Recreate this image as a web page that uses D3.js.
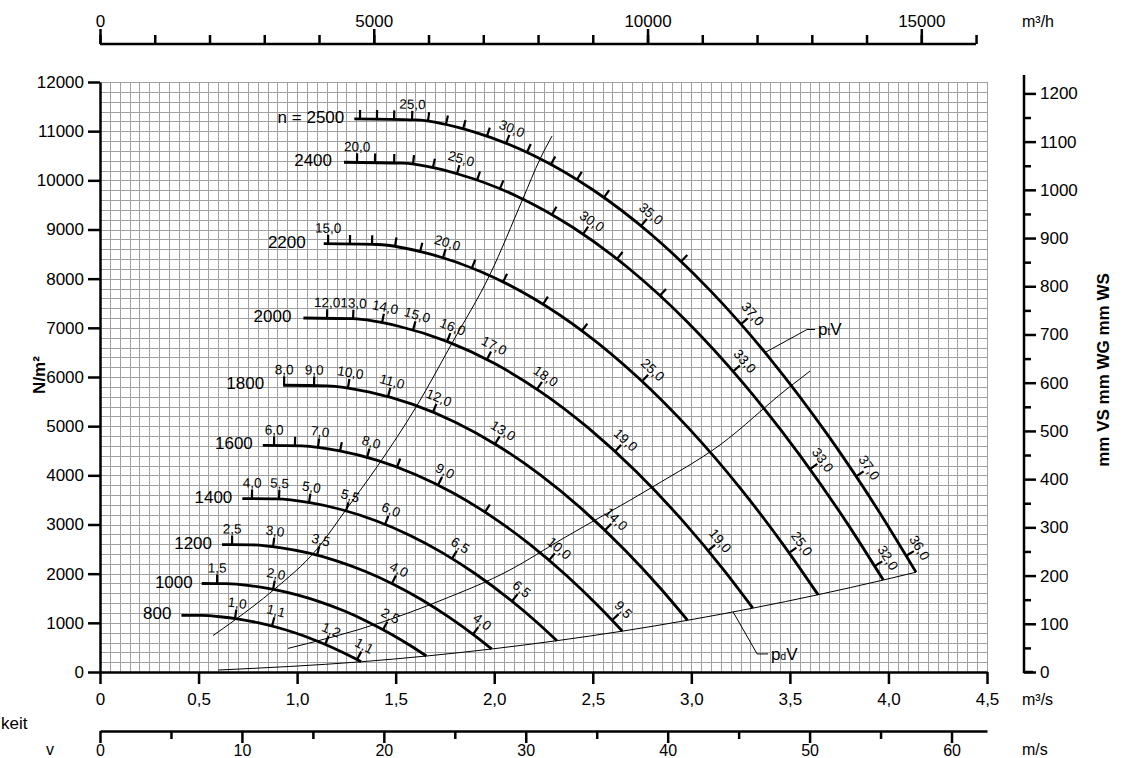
<!DOCTYPE html>
<html><head><meta charset="utf-8">
<script src="https://cdn.jsdelivr.net/npm/d3@7/dist/d3.min.js"></script>
<style>
body{margin:0;background:#fff;}
svg text{font-family:"Liberation Sans",Arial,Helvetica,sans-serif;fill:#000;}
</style></head><body>
<svg id="chart" width="1125" height="758"></svg>
<script>
// ---------------- data ----------------
const speeds = [800,1000,1200,1400,1600,1800,2000,2200,2400,2500];
const speedLabels = ["800","1000","1200","1400","1600","1800","2000","2200","2400","n = 2500"];

// fan curves: flow (m3/s) and total pressure (N/m2)
const flow_800  = [0.413,0.512,0.608,0.704,0.8,0.896,0.992,1.088,1.184,1.264,1.325];
const press_800 = [1152,1150,1124,1076,1004,910,793,652,489,335,208];
const flow_1000  = [0.516,0.64,0.76,0.88,1.0,1.12,1.24,1.36,1.48,1.58,1.656];
const press_1000 = [1800,1796,1757,1681,1569,1422,1239,1019,764,524,325];
const flow_1200  = [0.619,0.768,0.912,1.056,1.2,1.344,1.488,1.632,1.776,1.896,1.987];
const press_1200 = [2592,2587,2530,2421,2260,2048,1784,1468,1100,755,468];
const flow_1400  = [0.722,0.896,1.064,1.232,1.4,1.568,1.736,1.904,2.072,2.212,2.318];
const press_1400 = [3528,3521,3443,3295,3076,2787,2428,1998,1498,1027,637];
const flow_1600  = [0.826,1.024,1.216,1.408,1.6,1.792,1.984,2.176,2.368,2.528,2.65];
const press_1600 = [4608,4599,4497,4304,4018,3641,3171,2610,1956,1341,831];
const flow_1800  = [0.929,1.152,1.368,1.584,1.8,2.016,2.232,2.448,2.664,2.844,2.981];
const press_1800 = [5832,5821,5692,5447,5085,4608,4013,3303,2476,1698,1052];
const flow_2000  = [1.032,1.28,1.52,1.76,2.0,2.24,2.48,2.72,2.96,3.16,3.312];
const press_2000 = [7200,7186,7027,6724,6278,5688,4954,4077,3057,2096,1299];
const flow_2200  = [1.135,1.408,1.672,1.936,2.2,2.464,2.728,2.992,3.256,3.476,3.643];
const press_2200 = [8712,8695,8503,8137,7596,6883,5995,4934,3699,2536,1572];
const flow_2400  = [1.238,1.536,1.824,2.112,2.4,2.688,2.976,3.264,3.552,3.792,3.974];
const press_2400 = [10368,10348,10119,9683,9040,8191,7134,5871,4402,3018,1871];
const flow_2500  = [1.29,1.6,1.9,2.2,2.5,2.8,3.1,3.4,3.7,3.95,4.14];
const press_2500 = [11250,11228,10980,10507,9809,8888,7741,6371,4776,3275,2030];

// power marks along each curve (flow position, label kW)
const tickQ_800  = [0.685,0.873,1.142,1.304];
const tickL_800  = ["1,0","1,1","1,2","1,1"];
const tickQ_1000 = [0.594,0.878,1.436];
const tickL_1000 = ["1,5","2,0","2,5"];
const tickQ_1200 = [0.670,0.878,1.101,1.481,1.892];
const tickL_1200 = ["2,5","3,0","3,5","4,0","4,0"];
const tickQ_1400 = [0.771,0.908,1.060,1.248,1.446,1.786,2.09];
const tickL_1400 = ["4,0","5,5","5,0","5,5","6,0","6,5","6,5"];
const tickQ_1600 = [0.883,0.989,1.106,1.218,1.355,1.507,1.715,1.953,2.278,2.598];
const tickL_1600 = ["6,0","","7,0","","8,0","","9,0","","10,0","9,5"];
const tickQ_1800 = [0.934,1.086,1.258,1.461,1.689,2.004,2.562];
const tickL_1800 = ["8,0","9,0","10,0","11,0","12,0","13,0","14,0"];
const tickQ_2000 = [1.152,1.284,1.431,1.588,1.761,1.963,2.217,2.613,3.085];
const tickL_2000 = ["12,0","13,0","14,0","15,0","16,0","17,0","18,0","19,0","19,0"];
const tickQ_2200 = [1.157,1.268,1.380,1.497,1.624,1.740,1.887,2.045,2.248,2.445,2.750,3.496];
const tickL_2200 = ["15,0","","","","","20,0","","","","","25,0","25,0"];
const tickQ_2400 = [1.304,1.395,1.492,1.588,1.689,1.811,1.913,2.029,2.293,2.451,2.623,2.841,3.212,3.602,3.93];
const tickL_2400 = ["20,0","","","","","25,0","","","","30,0","","","33,0","33,0","32,0"];
const tickQ_2500 = [1.319,1.405,1.492,1.583,1.664,1.755,1.842,1.963,2.060,2.166,2.288,2.420,2.557,2.745,2.948,3.252,3.836,4.09];
const tickL_2500 = ["","","","25,0","","","","","30,0","","","","","35,0","","37,0","37,0","36,0"];

// system curves
const sysA_q = [0.573,0.685,0.878,1.101,1.248,1.41,1.608,1.786,1.979,2.146,2.232,2.293];
const sysA_p = [740,1060,1660,2500,3300,4200,5420,6690,8090,9630,10430,10900];
const sysB_q = [0.954,1.421,1.725,2.080,2.334,2.806,3.146,3.486,3.602];
const sysB_p = [480,1000,1450,2076,2680,3770,4620,5760,6120];
// dynamic pressure line pdV
const dyn_q = [0.6,1.325,1.656,1.987,2.318,2.65,2.981,3.312,3.643,3.974,4.14];
const dyn_p = [40,208,325,468,637,831,1052,1299,1572,1871,2030];

// axis ticks
const xTickVals = [0,0.5,1,1.5,2,2.5,3,3.5,4,4.5];
const xTickText = ["0","0,5","1,0","1,5","2,0","2,5","3,0","3,5","4,0","4,5"];
const yTickVals = [0,1000,2000,3000,4000,5000,6000,7000,8000,9000,10000,11000,12000];
const topMinorVals = [0,1000,2000,3000,4000,5000,6000,7000,8000,9000,10000,11000,12000,13000,14000,15000,16000];
const topMajorVals = [0,5000,10000,15000];
const vMinorVals = [5,15,25,35,45,55];
const vMajorVals = [0,10,20,30,40,50,60];
const mmMinorVals = [50,150,250,350,450,550,650,750,850,950,1050,1150];
const mmMajorVals = [0,100,200,300,400,500,600,700,800,900,1000,1100,1200];

// annotation anchors
const ptvAnchorQ = 3.374;   // on n=2500 curve
const pdvAnchorQ = 3.212;   // on pdV line

// ---------------- drawing ----------------
const FONT = '"Liberation Sans",Arial,Helvetica,sans-serif';
const FS = 17;
const svg = d3.select('#chart');
const x = d3.scaleLinear().domain([0,4.5]).range([100,987]);
const y = d3.scaleLinear().domain([0,12000]).range([672,82]);
const xTop = d3.scaleLinear().domain([0,16200]).range([100,987]);
const xV = d3.scaleLinear().domain([0,62.5]).range([100,987]);
const yMM = d3.scaleLinear().domain([0,12000/9.80665]).range([672,82]);
const plain = d => String(d);

// grid
const grid = svg.append('g').attr('stroke','#a0a0a0').attr('stroke-width',1);
const gq = d3.range(0,91).map(i=>i*0.05);
const gp = d3.range(0,61).map(i=>i*200);
grid.selectAll('line.v').data(gq).join('line')
  .attr('x1',d=>Math.round(x(d))+0.5).attr('x2',d=>Math.round(x(d))+0.5)
  .attr('y1',y(0)).attr('y2',y(12000));
grid.selectAll('line.h').data(gp).join('line')
  .attr('y1',d=>Math.round(y(d))+0.5).attr('y2',d=>Math.round(y(d))+0.5)
  .attr('x1',x(0)).attr('x2',x(4.5));

function styleAxis(g, size){
  g.attr('font-family',FONT).attr('font-size',size||FS);
  g.select('.domain').attr('stroke','#000').attr('stroke-width',2.5);
  g.selectAll('.tick line').attr('stroke','#000').attr('stroke-width',2.5);
  g.selectAll('.tick text').attr('fill','#000');
}

// left axis
const gl = svg.append('g').attr('transform','translate(100,0)')
  .call(d3.axisLeft(y).tickValues(yTickVals).tickFormat(plain).tickSize(12).tickPadding(4).tickSizeOuter(0));
styleAxis(gl);
// bottom axis m3/s
const gb = svg.append('g').attr('transform','translate(0,672)')
  .call(d3.axisBottom(x).tickValues(xTickVals).tickFormat((d,i)=>xTickText[i]).tickSize(12).tickPadding(9).tickSizeOuter(0));
styleAxis(gb);
// top axis m3/h
const gtMin = svg.append('g').attr('transform','translate(0,44)')
  .call(d3.axisTop(xTop).tickValues(topMinorVals).tickFormat('').tickSize(9).tickSizeOuter(0));
styleAxis(gtMin);
gtMin.select('.domain').attr('d',`M${xTop(0)},0H${xTop(16000)}`);
const gtMaj = svg.append('g').attr('transform','translate(0,44)')
  .call(d3.axisTop(xTop).tickValues(topMajorVals).tickFormat(plain).tickSize(15).tickPadding(2).tickSizeOuter(0));
styleAxis(gtMaj);
gtMaj.select('.domain').remove();
// velocity axis
const gvMin = svg.append('g').attr('transform','translate(0,731)')
  .call(d3.axisBottom(xV).tickValues(vMinorVals).tickFormat('').tickSize(8).tickSizeOuter(0));
styleAxis(gvMin);
const gvMaj = svg.append('g').attr('transform','translate(0,731)')
  .call(d3.axisBottom(xV).tickValues(vMajorVals).tickFormat(plain).tickSize(12).tickPadding(2).tickSizeOuter(0));
styleAxis(gvMaj, 16);
gvMaj.select('.domain').remove();
// right axis mm WS
const grMin = svg.append('g').attr('transform','translate(1024,0)')
  .call(d3.axisRight(yMM).tickValues(mmMinorVals).tickFormat('').tickSize(7).tickSizeOuter(0));
styleAxis(grMin);
grMin.select('.domain').attr('d','M0,75V672H9');
const grMaj = svg.append('g').attr('transform','translate(1024,0)')
  .call(d3.axisRight(yMM).tickValues(mmMajorVals).tickFormat(plain).tickSize(12).tickPadding(4).tickSizeOuter(0));
styleAxis(grMaj);
grMaj.select('.domain').remove();

// axis titles
svg.append('text').attr('x',1022).attr('y',27).attr('font-size',16).text('m³/h');
svg.append('text').attr('x',1022).attr('y',705).attr('font-size',16).text('m³/s');
svg.append('text').attr('x',1022).attr('y',755).attr('font-size',16).text('m/s');
svg.append('text').attr('x',46).attr('y',755).attr('font-size',16).text('v');
svg.append('text').attr('x',1).attr('y',729).attr('font-size',17).text('keit');
svg.append('text').attr('transform','translate(45,375) rotate(-90)').attr('text-anchor','middle')
  .attr('font-size',17).attr('font-weight','bold').text('N/m²');
svg.append('text').attr('transform','translate(1109,370) rotate(-90)').attr('text-anchor','middle')
  .attr('font-size',17).attr('font-weight','bold').text('mm VS mm WG mm WS');

// curves
const line = d3.line().x(d=>x(d[0])).y(d=>y(d[1])).curve(d3.curveMonotoneX);
function pointAtX(node, px){
  const total = node.getTotalLength();
  let lo=0, hi=total;
  for(let i=0;i<40;i++){const mid=(lo+hi)/2; const pt=node.getPointAtLength(mid); if(pt.x<px) lo=mid; else hi=mid;}
  const L=(lo+hi)/2, p=node.getPointAtLength(L);
  const a=node.getPointAtLength(Math.max(0,L-2)), b=node.getPointAtLength(Math.min(total,L+2));
  return {x:p.x,y:p.y,ang:Math.atan2(b.y-a.y,b.x-a.x)};
}

const thin = svg.append('g').attr('fill','none').attr('stroke','#000').attr('stroke-width',1);
thin.append('path').datum(d3.zip(sysA_q,sysA_p)).attr('d',line);
thin.append('path').datum(d3.zip(sysB_q,sysB_p)).attr('d',line);
const dynPath = thin.append('path').datum(d3.zip(dyn_q,dyn_p)).attr('d',line);

const fan = [
  [flow_800,press_800,tickQ_800,tickL_800],
  [flow_1000,press_1000,tickQ_1000,tickL_1000],
  [flow_1200,press_1200,tickQ_1200,tickL_1200],
  [flow_1400,press_1400,tickQ_1400,tickL_1400],
  [flow_1600,press_1600,tickQ_1600,tickL_1600],
  [flow_1800,press_1800,tickQ_1800,tickL_1800],
  [flow_2000,press_2000,tickQ_2000,tickL_2000],
  [flow_2200,press_2200,tickQ_2200,tickL_2200],
  [flow_2400,press_2400,tickQ_2400,tickL_2400],
  [flow_2500,press_2500,tickQ_2500,tickL_2500]
];
const labelGap = [10,9,10,10,10,19,12,18,12,10];
const gCurves = svg.append('g');
const curveNodes = [];
fan.forEach((c,ci)=>{
  const path = gCurves.append('path').datum(d3.zip(c[0],c[1])).attr('d',line)
    .attr('fill','none').attr('stroke','#000').attr('stroke-width',2.8);
  const node = path.node();
  curveNodes.push(node);
  c[2].forEach((tq,i)=>{
    const pt = pointAtX(node, x(tq));
    const nx = Math.sin(pt.ang), ny = -Math.cos(pt.ang);
    gCurves.append('line').attr('x1',pt.x).attr('y1',pt.y)
      .attr('x2',pt.x+nx*9).attr('y2',pt.y+ny*9)
      .attr('stroke','#000').attr('stroke-width',2.2);
    const lab = c[3][i];
    if(lab){
      gCurves.append('text')
        .attr('transform',`translate(${pt.x+nx*11},${pt.y+ny*11}) rotate(${pt.ang*180/Math.PI})`)
        .attr('text-anchor','middle').attr('font-size',13.5).text(lab);
    }
  });
  gCurves.append('text').attr('x',x(c[0][0])-labelGap[ci]).attr('y',y(c[1][0])+4)
    .attr('text-anchor','end').attr('font-size',17).text(speedLabels[ci]);
});

// annotations ptV / pdV
const ann = svg.append('g');
const pt1 = pointAtX(curveNodes[9], x(ptvAnchorQ));
ann.append('path').attr('d',`M${pt1.x},${pt1.y}L${pt1.x+42},${pt1.y-23}h8`)
  .attr('fill','none').attr('stroke','#000').attr('stroke-width',1);
const t1 = ann.append('text').attr('x',pt1.x+53).attr('y',pt1.y-17).attr('font-size',17);
t1.append('tspan').text('p');
t1.append('tspan').attr('font-size',10).text('t');
t1.append('tspan').text('V');
const pt2 = pointAtX(dynPath.node(), x(pdvAnchorQ));
ann.append('path').attr('d',`M${pt2.x},${pt2.y}L${pt2.x+24},${pt2.y+42}h11`)
  .attr('fill','none').attr('stroke','#000').attr('stroke-width',1);
const t2 = ann.append('text').attr('x',pt2.x+38).attr('y',pt2.y+48).attr('font-size',17);
t2.append('tspan').text('p');
t2.append('tspan').attr('font-size',10).text('d');
t2.append('tspan').text('V');
</script>
</body></html>
